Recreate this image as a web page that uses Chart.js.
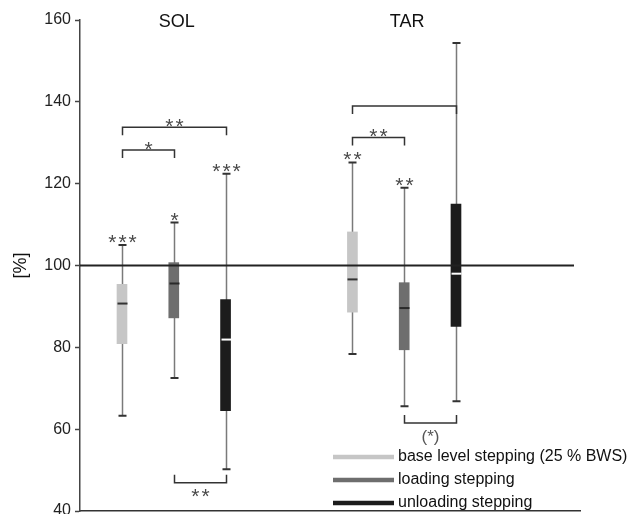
<!DOCTYPE html>
<html lang="en">
<head>
<meta charset="UTF-8">
<title>SOL / TAR</title>
<script src="https://cdn.jsdelivr.net/npm/chart.js"></script>
<style>
    body { margin: 0; background: #fff; }
    .wrap { width: 642px; height: 514px; }
</style>
</head>
<body>
<div class="wrap"><canvas id="boxChart" width="642" height="514"></canvas></div>
<script>
// muscles and stepping conditions
const groups = ['SOL', 'TAR'];
const conditions = ['base level stepping (25 % BWS)', 'loading stepping', 'unloading stepping'];
const condColors = ['#c6c6c6', '#6e6e6e', '#1c1c1c'];
const medianColors = ['#333333', '#2a2a2a', '#ffffff'];

// values per condition, [SOL, TAR]
const whiskerLow  = [[63.3, 78.4], [72.5, 65.6], [50.2, 66.8]];
const quartile1   = [[80.9, 88.6], [87.2, 79.4], [64.5, 85.1]];
const medians     = [[90.7, 96.6], [95.6, 89.6], [81.9, 98.0]];
const quartile3   = [[95.4, 108.2], [100.7, 95.8], [91.7, 115.0]];
const whiskerHigh = [[105.0, 125.2], [110.5, 119.0], [122.4, 154.4]];
const boxStars    = [['***', '**'], ['*', '**'], ['***', '']];

// significance brackets (value = height of the bar, up = legs point down)
const brackets = [
    { group: 0, from: 0, to: 1, value: 128.2, up: true,  label: '*' },
    { group: 0, from: 0, to: 2, value: 133.8, up: true,  label: '**' },
    { group: 0, from: 1, to: 2, value: 46.9,  up: false, label: '**' },
    { group: 1, from: 0, to: 1, value: 131.3, up: true,  label: '**' },
    { group: 1, from: 0, to: 2, value: 139.0, up: true,  label: '' },
    { group: 1, from: 1, to: 2, value: 61.5,  up: false, label: '(*)' }
];

const yTicks = [40, 60, 80, 100, 120, 140, 160];
const referenceValue = 100;

const FONT = 'Arial, "Liberation Sans", sans-serif';
const GROUP_GAP = 4.45;

function slot(g, c) {
    return 1 + g * GROUP_GAP + c;
}

// spaced-out asterisks, centred on (cx, cy)
function drawStars(ctx, text, cx, cy) {
    ctx.save();
    ctx.fillStyle = '#4a4a4a';
    ctx.font = '21px ' + FONT;
    ctx.letterSpacing = '2px';
    ctx.textAlign = 'center';
    ctx.textBaseline = 'alphabetic';
    ctx.fillText(text, cx + 1, cy + 12);
    ctx.restore();
}

const datasets = conditions.map((name, ci) => ({
    label: name,
    data: groups.map((g, gi) => ({ x: slot(gi, ci), y: [quartile1[ci][gi], quartile3[ci][gi]] })),
    backgroundColor: condColors[ci],
    borderWidth: 0,
    barThickness: 10,
    grouped: false
}));

const boxExtras = {
    id: 'boxExtras',
    beforeDatasetsDraw(chart) {
        const { ctx, scales: { x, y } } = chart;
        ctx.save();
        ctx.strokeStyle = '#7a7a7a';
        ctx.lineWidth = 1.5;
        conditions.forEach((c, ci) => groups.forEach((g, gi) => {
            const px = Math.round(x.getPixelForValue(slot(gi, ci))) + 0.5;
            ctx.beginPath();
            ctx.moveTo(px, y.getPixelForValue(whiskerLow[ci][gi]));
            ctx.lineTo(px, y.getPixelForValue(whiskerHigh[ci][gi]));
            ctx.stroke();
        }));
        ctx.restore();
    },
    afterDatasetsDraw(chart) {
        const { ctx, chartArea, scales: { x, y } } = chart;
        ctx.save();

        // caps, medians and stars on each box
        conditions.forEach((c, ci) => groups.forEach((g, gi) => {
            const px = Math.round(x.getPixelForValue(slot(gi, ci))) + 0.5;
            const top = y.getPixelForValue(whiskerHigh[ci][gi]);
            const bot = y.getPixelForValue(whiskerLow[ci][gi]);
            ctx.strokeStyle = '#333';
            ctx.lineWidth = 2;
            ctx.beginPath();
            ctx.moveTo(px - 4, top); ctx.lineTo(px + 4, top);
            ctx.moveTo(px - 4, bot); ctx.lineTo(px + 4, bot);
            ctx.stroke();

            const my = y.getPixelForValue(medians[ci][gi]);
            ctx.strokeStyle = medianColors[ci];
            ctx.beginPath();
            ctx.moveTo(px - 5, my); ctx.lineTo(px + 5, my);
            ctx.stroke();

            if (boxStars[ci][gi]) drawStars(ctx, boxStars[ci][gi], px, top - 8);
        }));

        // reference line
        const ry = y.getPixelForValue(referenceValue);
        ctx.strokeStyle = '#222';
        ctx.lineWidth = 2;
        ctx.beginPath();
        ctx.moveTo(chartArea.left, ry);
        ctx.lineTo(chartArea.right - 6, ry);
        ctx.stroke();

        // brackets
        brackets.forEach(b => {
            const x1 = Math.round(x.getPixelForValue(slot(b.group, b.from))) + 0.5;
            const x2 = Math.round(x.getPixelForValue(slot(b.group, b.to))) + 0.5;
            const by = y.getPixelForValue(b.value);
            const leg = b.up ? 8 : -8;
            ctx.strokeStyle = '#333';
            ctx.lineWidth = 1.5;
            ctx.beginPath();
            ctx.moveTo(x1, by + leg);
            ctx.lineTo(x1, by);
            ctx.lineTo(x2, by);
            ctx.lineTo(x2, by + leg);
            ctx.stroke();
            if (!b.label) return;
            const cx = (x1 + x2) / 2;
            if (b.label === '(*)') {
                ctx.fillStyle = '#555';
                ctx.textAlign = 'center';
                ctx.font = '17px ' + FONT;
                ctx.textBaseline = 'middle';
                ctx.fillText(b.label, cx, by + 14);
            } else {
                drawStars(ctx, b.label, cx, b.up ? by - 6 : by + 8);
            }
        });

        // muscle titles
        ctx.fillStyle = '#111';
        ctx.font = '18px ' + FONT;
        ctx.textAlign = 'center';
        ctx.textBaseline = 'middle';
        groups.forEach((g, gi) => {
            ctx.fillText(g, x.getPixelForValue(slot(gi, 1)) + 3, chartArea.top + 2);
        });

        // legend
        ctx.font = '16px ' + FONT;
        ctx.textAlign = 'left';
        ctx.textBaseline = 'middle';
        conditions.forEach((name, ci) => {
            const ly = 457 + ci * 23;
            ctx.strokeStyle = condColors[ci];
            ctx.lineWidth = 4.5;
            ctx.beginPath();
            ctx.moveTo(333, ly); ctx.lineTo(394, ly);
            ctx.stroke();
            ctx.fillStyle = '#111';
            ctx.fillText(name, 398, ly);
        });

        ctx.restore();
    }
};

new Chart(document.getElementById('boxChart'), {
    type: 'bar',
    data: { datasets: datasets },
    options: {
        responsive: false,
        animation: false,
        layout: { padding: { top: 20, right: 62, bottom: 3, left: 0 } },
        plugins: { legend: { display: false }, tooltip: { enabled: false } },
        scales: {
            x: {
                type: 'linear',
                offset: false,
                min: 0.189,
                max: 9.845,
                ticks: { display: false },
                grid: { display: false },
                border: { color: '#333', width: 1.5 },
                afterFit(scale) { scale.height = 0; }
            },
            y: {
                min: 40,
                max: 160,
                afterBuildTicks(scale) { scale.ticks = yTicks.map(v => ({ value: v })); },
                ticks: { color: '#222', padding: 4, font: { size: 16, family: FONT } },
                grid: { drawOnChartArea: false, tickLength: 5, tickColor: '#444', tickWidth: 1.5 },
                border: { color: '#444', width: 1.5 },
                title: { display: true, text: '[%]', color: '#111', padding: { top: 10, bottom: 4 }, font: { size: 18, family: FONT } },
                afterFit(scale) {
                    scale.width = 80;
                    scale.paddingTop = 0;
                    scale.paddingBottom = 0;
                }
            }
        }
    },
    plugins: [boxExtras]
});
</script>
</body>
</html>
